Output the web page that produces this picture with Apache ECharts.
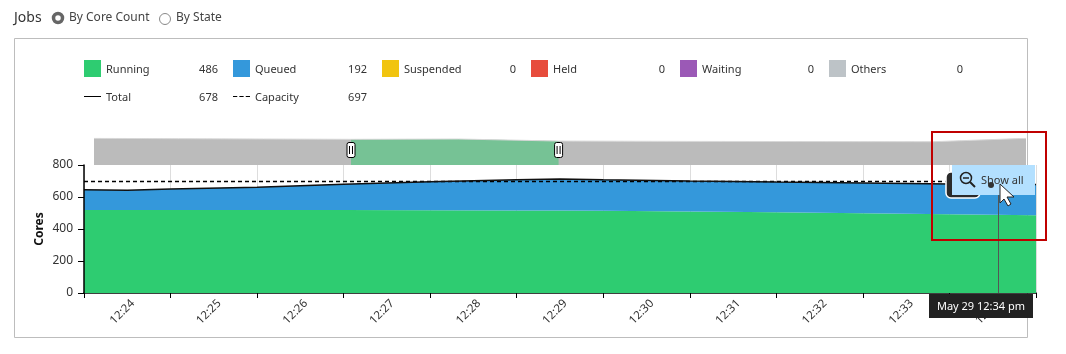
<!DOCTYPE html>
<html>
<head>
<meta charset="utf-8">
<style>
  html, body { margin: 0; padding: 0; background: #fff; }
  #chart { width: 1066px; height: 354px; }
</style>
<script src="https://cdn.jsdelivr.net/npm/echarts@6/dist/echarts.min.js"></script>
</head>
<body>
<div id="chart"></div>
<script>
const FONT = '"Noto Sans", "Open Sans", sans-serif'

const minuteLabels = ['12:24', '12:25', '12:26', '12:27', '12:28', '12:29', '12:30', '12:31', '12:32', '12:33', '12:34']
const rangeStart = '2024-05-29 12:23:30'
const rangeEnd = '2024-05-29 12:34:30'
const sampleTimes = [
  '2024-05-29 12:23:30', '2024-05-29 12:24:00', '2024-05-29 12:24:30', '2024-05-29 12:25:30',
  '2024-05-29 12:26:30', '2024-05-29 12:27:30', '2024-05-29 12:28:30', '2024-05-29 12:29:00',
  '2024-05-29 12:29:30', '2024-05-29 12:30:30', '2024-05-29 12:31:30', '2024-05-29 12:32:30',
  '2024-05-29 12:33:30', '2024-05-29 12:34:30',
]
const running = [519, 519, 519, 518, 518, 517, 516, 515, 514, 510, 505, 499, 492, 486]
const queued = [126, 123, 131, 143, 162, 178, 192, 198, 194, 190, 188, 189, 190, 192]
const suspended = [0, 0, 0, 0, 0, 0, 0, 0, 0, 0, 0, 0, 0, 0]
const held = [0, 0, 0, 0, 0, 0, 0, 0, 0, 0, 0, 0, 0, 0]
const waiting = [0, 0, 0, 0, 0, 0, 0, 0, 0, 0, 0, 0, 0, 0]
const others = [0, 0, 0, 0, 0, 0, 0, 0, 0, 0, 0, 0, 0, 0]
const total = [645, 642, 650, 661, 680, 695, 708, 713, 708, 700, 693, 688, 682, 678]
const capacity = [697, 697, 697, 697, 697, 697, 697, 697, 697, 697, 697, 697, 697, 697]

const legendValues = { Running: 486, Queued: 192, Suspended: 0, Held: 0, Waiting: 0, Others: 0, Total: 678, Capacity: 697 }

const navigatorTimes = [
  '2024-05-29 12:23:30', '2024-05-29 12:24:30', '2024-05-29 12:25:30', '2024-05-29 12:26:32',
  '2024-05-29 12:27:48', '2024-05-29 12:28:59', '2024-05-29 12:30:30', '2024-05-29 12:33:24',
  '2024-05-29 12:34:30',
]
const navigatorLevels = [790, 780, 770, 761, 770, 710, 700, 690, 790]
const selectedTimes = ['2024-05-29 12:26:32', '2024-05-29 12:27:48', '2024-05-29 12:28:59']
const selectedLevels = [761, 770, 710]

const pairs = (xs, ys) => xs.map((x, i) => [x, ys[i]])

const stackSeries = (name, values, color) => ({
  name,
  type: 'line',
  stack: 'jobs',
  xAxisIndex: 1,
  yAxisIndex: 0,
  data: pairs(sampleTimes, values),
  showSymbol: false,
  symbol: 'none',
  color,
  lineStyle: { width: 0 },
  areaStyle: { color, opacity: 1 },
  silent: true,
})

const legendBase = {
  left: 84,
  padding: 0,
  orient: 'horizontal',
  itemGap: 15,
  itemWidth: 17,
  selectedMode: false,
  formatter: name => `{n|${name}}{v|${legendValues[name]}}`,
  textStyle: {
    rich: {
      n: { width: 77, align: 'left', fontFamily: FONT, fontSize: 11, color: '#333', padding: [2, 0, 0, 0] },
      v: { width: 35, align: 'right', fontFamily: FONT, fontSize: 11, color: '#333', padding: [2, 0, 0, 0] },
    },
  },
}

const Z = 100
const txt = (x, y, text, fontSize, extra, z) => ({
  type: 'text', x, y, z: z || Z,
  style: { text, fontFamily: FONT, fontSize, fill: '#444', verticalAlign: 'middle', ...extra },
})

const overlay = [
  // panel frame and header
  { type: 'rect', z: -1, shape: { x: 14.5, y: 38.5, width: 1013, height: 299 }, style: { fill: 'none', stroke: '#bdbdbd', lineWidth: 1 } },
  txt(14, 18, 'Jobs', 14, { fill: '#333' }),
  { type: 'circle', z: Z, shape: { cx: 58, cy: 18, r: 4.5 }, style: { fill: '#fff', stroke: '#666', lineWidth: 3.5 } },
  txt(69, 18, 'By Core Count', 12),
  { type: 'circle', z: Z, shape: { cx: 165, cy: 19, r: 5.5 }, style: { fill: '#fff', stroke: '#888', lineWidth: 1 } },
  txt(176, 18, 'By State', 12),

  // hover cursor and marker
  { type: 'line', z: Z, shape: { x1: 998.5, y1: 192, x2: 998.5, y2: 293 }, style: { stroke: '#555', lineWidth: 1 } },
  { type: 'rect', z: Z, shape: { x: 946, y: 172, width: 34, height: 26, r: 5 }, style: { fill: '#2b2b2b', stroke: '#fff', lineWidth: 1.5 } },

  // show all button
  { type: 'rect', z: Z + 1, shape: { x: 952, y: 165, width: 83, height: 30 }, style: { fill: '#b3e0ff' } },
  { type: 'circle', z: Z + 2, shape: { cx: 966, cy: 178, r: 5.5 }, style: { fill: 'none', stroke: '#222', lineWidth: 1.5 } },
  { type: 'line', z: Z + 2, shape: { x1: 963, y1: 178, x2: 969, y2: 178 }, style: { stroke: '#222', lineWidth: 1.5 } },
  { type: 'line', z: Z + 2, shape: { x1: 970, y1: 182, x2: 975, y2: 187 }, style: { stroke: '#222', lineWidth: 2 } },
  txt(981, 181, 'Show all', 11, { fill: '#333' }, Z + 2),
  { type: 'circle', z: Z + 3, shape: { cx: 991, cy: 185, r: 3 }, style: { fill: '#333' } },
  {
    type: 'polygon', z: Z + 4,
    shape: { points: [[1000, 184], [1000, 203], [1004, 199], [1008, 206], [1011, 204], [1007, 197], [1014, 197]] },
    style: { fill: '#fff', stroke: '#222', lineWidth: 1 },
  },

  // tooltip
  { type: 'rect', z: Z + 1, shape: { x: 929, y: 294, width: 104, height: 24 }, style: { fill: '#222' } },
  txt(981, 307, 'May 29 12:34 pm', 11, { fill: '#fff', align: 'center' }, Z + 2),

  // annotation box
  { type: 'rect', z: Z + 5, shape: { x: 932, y: 132, width: 114, height: 108 }, style: { fill: 'none', stroke: '#c00000', lineWidth: 2 } },
]

const chart = echarts.init(document.getElementById('chart'), null, { renderer: 'canvas' })

chart.setOption({
  animation: false,
  textStyle: { fontFamily: FONT },
  legend: [
    {
      ...legendBase,
      top: 60,
      data: ['Running', 'Queued', 'Suspended', 'Held', 'Waiting', 'Others'].map(name => ({ name, icon: 'rect' })),
      itemHeight: 17,
    },
    {
      ...legendBase,
      top: 92,
      itemHeight: 1.5,
      data: [
        { name: 'Total', icon: 'path://M0 0H16V1H0Z' },
        { name: 'Capacity', icon: 'path://M0 0H4V1H0ZM6 0H10V1H6ZM12 0H16V1H12Z' },
      ],
    },
  ],
  grid: [
    { left: 84, right: 30, top: 165, height: 128 },
    { left: 94, right: 40, top: 138, height: 27 },
  ],
  xAxis: [
    {
      type: 'category',
      gridIndex: 0,
      data: minuteLabels,
      boundaryGap: true,
      axisLine: { lineStyle: { color: '#000', width: 1.5 } },
      axisTick: { show: true, length: 5, alignWithLabel: false, lineStyle: { color: '#000' } },
      axisLabel: {
        rotate: 45, color: '#333', fontSize: 11.5, margin: 14, interval: 0,
        align: 'center', verticalAlign: 'middle', padding: [0, 14, 0, 0],
      },
      splitLine: { show: true, lineStyle: { color: '#ddd' } },
    },
    { type: 'time', gridIndex: 0, min: rangeStart, max: rangeEnd, show: false },
    { type: 'time', gridIndex: 1, min: rangeStart, max: rangeEnd, show: false },
  ],
  yAxis: [
    {
      type: 'value',
      gridIndex: 0,
      min: 0,
      max: 800,
      interval: 200,
      z: 10,
      name: 'Cores',
      nameLocation: 'middle',
      nameGap: 38,
      nameMoveOverlap: false,
      nameTextStyle: { fontWeight: 'bold', fontSize: 12, color: '#111' },
      axisLine: { show: true, lineStyle: { color: '#000', width: 1.5 } },
      axisTick: { show: true, length: 6, lineStyle: { color: '#000' } },
      axisLabel: { color: '#333', fontSize: 12, margin: 11, padding: [4, 0, 0, 0] },
      splitLine: { show: false },
    },
    { type: 'value', gridIndex: 1, min: 0, max: 800, show: false },
  ],
  series: [
    stackSeries('Running', running, '#2ecc71'),
    stackSeries('Queued', queued, '#3498db'),
    stackSeries('Suspended', suspended, '#f1c40f'),
    stackSeries('Held', held, '#e74c3c'),
    stackSeries('Waiting', waiting, '#9b59b6'),
    stackSeries('Others', others, '#bdc3c7'),
    {
      name: 'Capacity',
      type: 'line',
      xAxisIndex: 1,
      yAxisIndex: 0,
      data: pairs(sampleTimes, capacity),
      symbol: 'none',
      color: '#000',
      lineStyle: { color: '#000', width: 1.5, type: [4, 3] },
      z: 5,
    },
    {
      name: 'Total',
      type: 'line',
      xAxisIndex: 1,
      yAxisIndex: 0,
      data: pairs(sampleTimes, total),
      symbol: 'none',
      color: '#000',
      lineStyle: { color: '#111', width: 1.5 },
      z: 6,
    },
    {
      name: 'navigator',
      type: 'line',
      xAxisIndex: 2,
      yAxisIndex: 1,
      data: pairs(navigatorTimes, navigatorLevels),
      symbol: 'none',
      lineStyle: { color: '#d8d8d8', width: 1 },
      areaStyle: { color: '#bbbbbb', opacity: 1 },
    },
    {
      name: 'navigatorSelected',
      type: 'line',
      xAxisIndex: 2,
      yAxisIndex: 1,
      data: pairs(selectedTimes, selectedLevels),
      symbol: 'none',
      lineStyle: { width: 0 },
      areaStyle: { color: '#76c295', opacity: 1 },
      z: 3,
    },
    {
      name: 'navigatorHandles',
      type: 'custom',
      xAxisIndex: 2,
      yAxisIndex: 1,
      data: [[selectedTimes[0], 444], [selectedTimes[2], 444]],
      z: 4,
      renderItem: (params, api) => {
        const p = api.coord([api.value(0), api.value(1)])
        const line = dx => ({
          type: 'line',
          shape: { x1: p[0] + dx, y1: p[1] - 4, x2: p[0] + dx, y2: p[1] + 4 },
          style: { stroke: '#000', lineWidth: 1 },
        })
        return {
          type: 'group',
          children: [
            {
              type: 'rect',
              shape: { x: p[0] - 4, y: p[1] - 7.5, width: 8, height: 15, r: 2 },
              style: { fill: '#fff', stroke: '#000', lineWidth: 1 },
            },
            line(-1.5),
            line(1.5),
          ],
        }
      },
    },
  ],
  graphic: overlay,
})

window.addEventListener('resize', () => chart.resize())
</script>
</body>
</html>
